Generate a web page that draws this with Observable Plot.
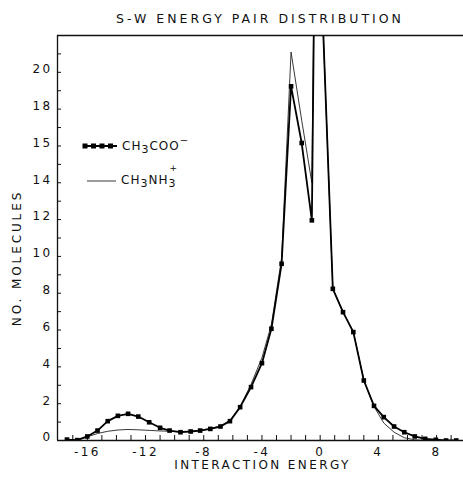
<!DOCTYPE html>
<html><head><meta charset="utf-8">
<script src="https://cdn.jsdelivr.net/npm/d3@7"></script>
<script src="https://cdn.jsdelivr.net/npm/@observablehq/plot@0.6"></script>
<style>
body{margin:0;background:#fff;}
#wrap{position:relative;width:463px;height:479px;font-family:"DejaVu Sans",sans-serif;color:#111;}
#wrap svg.plotsvg{position:absolute;left:0;top:0;z-index:0;}
#title{position:absolute;z-index:2;left:57px;width:406px;top:11px;text-align:center;font-size:12.5px;letter-spacing:3px;line-height:16px;}
.leg{position:absolute;z-index:2;display:flex;align-items:center;font-size:12px;letter-spacing:1px;line-height:14px;}
.leg svg{display:block;margin-right:4px;}
.leg sub{font-size:11px;vertical-align:-3px;line-height:0;}
.leg sup{font-size:10px;vertical-align:6px;line-height:0;}
.ss{display:inline-block;position:relative;width:8px;}
.ss .sp{position:absolute;left:1px;top:-9px;font-size:9px;line-height:9px;}
.ss .sb{position:relative;top:3px;font-size:11px;}
g[aria-label="text"] text{letter-spacing:2.4px;}
g.ylab text{letter-spacing:2.9px;}
</style>
</head><body>
<div id="wrap">
  <div id="title"></div>
  <div class="leg" id="leg1" style="left:82px;top:139px;"></div>
  <div class="leg" id="leg2" style="left:86px;top:173px;"></div>
</div>
<script>
// ---- data ----
const energy = [-17.4,-16.7,-16.0,-15.3,-14.6,-13.9,-13.2,-12.5,-11.75,-11.0,-10.35,-9.6,-8.9,-8.25,-7.55,-6.85,-6.2,-5.5,-4.75,-4.0,-3.35,-2.65,-2.0,-1.27,-0.57,-0.3,0.87,1.57,2.28,3.0,3.7,4.37,5.08,5.78,6.5,7.22,7.95,8.65,9.35];
const acetate = [0.05,0.02,0.22,0.54,1.05,1.34,1.45,1.3,0.99,0.69,0.54,0.45,0.49,0.54,0.63,0.76,1.05,1.81,2.9,4.2,6.07,9.6,19.24,16.16,11.96,33,8.24,6.97,5.89,3.26,1.88,1.27,0.76,0.45,0.22,0.09,0.04,0.0,0.0];
const methylammonium = [0,0.02,0.2,0.38,0.5,0.57,0.6,0.58,0.55,0.52,0.5,0.47,0.5,0.55,0.65,0.8,1.1,1.85,3.05,4.5,6.3,9.9,21.1,17.4,14.0,33,8.24,7.0,5.9,3.3,1.85,0.95,0.45,0.15,0.04,0.0,0.0,0.0,0.0];
const xDomain = [-18.05, 9.85];
const yDomain = [0, 22];
const xTickValues = [-16,-12,-8,-4,0,4,8];
const xTickLabels = ["-16","-12","-8","-4","0","4","8"];
const yTickValues = [0,2,4,6,8,10,12,14,16,18,20];
const yTickLabels = ["0","2","4","6","8","10","12","14","15","18","20"];
const xMinor = d3.range(-17, 10);
const yMinor = d3.range(0, 22);
const titleText = "S-W ENERGY PAIR DISTRIBUTION";
const xLabel = "INTERACTION ENERGY";
const yLabel = "NO. MOLECULES";

const ac = energy.map((e, i) => ({energy: e, n: acetate[i]}));
const me = energy.map((e, i) => ({energy: e, n: methylammonium[i]}));

const W = 463, H = 479, mL = 57, mR = 0, mT = 35, mB = 39;
const fw = W - mL - mR, fh = H - mT - mB;

const chart = Plot.plot({
  width: W, height: H,
  marginLeft: mL, marginRight: mR, marginTop: mT, marginBottom: mB,
  className: "plotsvg",
  style: {fontFamily: "DejaVu Sans, sans-serif", fontSize: "12px", color: "#111", background: "transparent", overflow: "visible"},
  x: {domain: xDomain, axis: null},
  y: {domain: yDomain, axis: null},
  marks: [
    Plot.ruleY([yDomain[1]], {stroke: "#111", strokeWidth: 1.3}),
    Plot.ruleY([yDomain[0]], {stroke: "#111", strokeWidth: 1.3}),
    Plot.ruleX([xDomain[0]], {stroke: "#111", strokeWidth: 1.3}),
    Plot.tickX(xMinor, {x: d => d, insetTop: fh - 5, stroke: "#111"}),
    Plot.tickY(yMinor, {y: d => d, insetRight: fw - 4, stroke: "#111"}),
    Plot.line(me, {x: "energy", y: "n", stroke: "#222", strokeWidth: 0.9, clip: true}),
    Plot.line(ac, {x: "energy", y: "n", stroke: "#000", strokeWidth: 1.8, clip: true}),
    Plot.dot(ac, {x: "energy", y: "n", symbol: "square", r: 2.6, fill: "#000", stroke: "none", clip: true}),
    Plot.text(xTickValues, {x: d => d, frameAnchor: "bottom", lineAnchor: "middle", textAnchor: "middle", dy: 12, text: (d, i) => xTickLabels[i], fill: "#111", fontSize: 12}),
    Plot.text(yTickValues, {y: d => d, frameAnchor: "left", lineAnchor: "middle", textAnchor: "end", dx: -5, dy: -3, text: (d, i) => yTickLabels[i], fill: "#111", fontSize: 12}),
    Plot.text([xLabel], {frameAnchor: "bottom", lineAnchor: "middle", textAnchor: "middle", dx: 2, dy: 25, text: d => d, fill: "#111", fontSize: 12}),
    Plot.text([yLabel], {frameAnchor: "left", lineAnchor: "middle", textAnchor: "middle", dx: -40, dy: 20, rotate: -90, text: d => d, fill: "#111", fontSize: 12, className: "ylab"})
  ]
});
const wrap = document.getElementById("wrap");
wrap.insertBefore(chart, wrap.firstChild);
document.getElementById("title").textContent = titleText;

// legend
document.getElementById("leg1").innerHTML =
  '<svg width="36" height="10"><line x1="1" y1="5" x2="35" y2="5" stroke="#000" stroke-width="1.8"/>' +
  [3, 11.5, 20, 28.5].map(x => `<rect x="${x - 2.5}" y="2.5" width="5" height="5" fill="#000"/>`).join("") +
  '</svg><span>CH<sub>3</sub>COO<sup>−</sup></span>';
document.getElementById("leg2").innerHTML =
  '<svg width="31" height="10"><line x1="1" y1="5" x2="30" y2="5" stroke="#222" stroke-width="0.9"/></svg>' +
  '<span>CH<sub>3</sub>NH<span class="ss"><span class="sp">+</span><span class="sb">3</span></span></span>';
</script>
</body></html>
